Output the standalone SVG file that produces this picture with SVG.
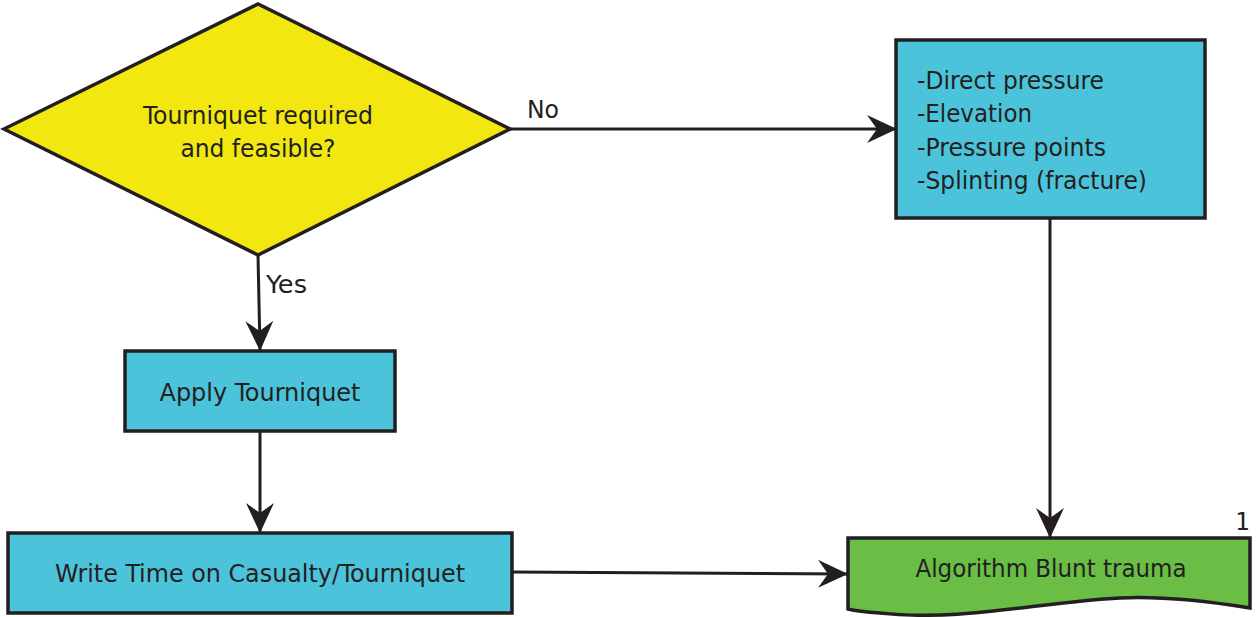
<svg xmlns="http://www.w3.org/2000/svg" width="1257" height="617" viewBox="0 0 1257 617">
<style>
.sh{stroke:#231F20;stroke-width:3.5;stroke-linejoin:miter}
.cn{fill:none;stroke:#231F20;stroke-width:3}
text{font-family:"DejaVu Sans Condensed","DejaVu Sans",sans-serif;font-size:24.5px;fill:#231F20}
.c{text-anchor:middle}
</style>
<defs>
<marker id="ah" viewBox="0 0 30 28" refX="29" refY="14" markerWidth="30" markerHeight="28" markerUnits="userSpaceOnUse" orient="auto">
<path d="M0,0 L30,14 L0,28 L10,14 Z" fill="#231F20"/>
</marker>
</defs>
<rect width="1257" height="617" fill="#fff"/>
<g id="connectors">
<path class="cn" d="M510,129 L896,129" marker-end="url(#ah)"/>
<path class="cn" d="M258,255 L260,350" marker-end="url(#ah)"/>
<path class="cn" d="M260,431 L260,532" marker-end="url(#ah)"/>
<path class="cn" d="M1050,218 L1050,537" marker-end="url(#ah)"/>
<path class="cn" d="M512,572 L847,574" marker-end="url(#ah)"/>
<text x="527" y="118" textLength="32" lengthAdjust="spacingAndGlyphs">No</text>
<text x="266" y="293" textLength="41" lengthAdjust="spacingAndGlyphs">Yes</text>
</g>
<g id="decision">
<polygon class="sh" points="4,129 258,4 510,129 258,255" fill="#F2E80F"/>
<text class="c" x="258" y="124" textLength="230" lengthAdjust="spacingAndGlyphs">Tourniquet required</text>
<text class="c" x="258" y="157" textLength="155" lengthAdjust="spacingAndGlyphs">and feasible?</text>
</g>
<g id="alternatives">
<rect class="sh" x="896" y="40" width="309" height="178" fill="#4BC4DB"/>
<text x="917" y="89" textLength="187" lengthAdjust="spacingAndGlyphs">-Direct pressure</text>
<text x="917" y="122" textLength="115" lengthAdjust="spacingAndGlyphs">-Elevation</text>
<text x="917" y="156" textLength="189" lengthAdjust="spacingAndGlyphs">-Pressure points</text>
<text x="917" y="189" textLength="230" lengthAdjust="spacingAndGlyphs">-Splinting (fracture)</text>
</g>
<g id="apply">
<rect class="sh" x="125" y="351" width="270" height="80" fill="#4BC4DB"/>
<text class="c" x="260" y="401" textLength="201" lengthAdjust="spacingAndGlyphs">Apply Tourniquet</text>
</g>
<g id="writetime">
<rect class="sh" x="8" y="533" width="504" height="80" fill="#4BC4DB"/>
<text class="c" x="260" y="582" textLength="410" lengthAdjust="spacingAndGlyphs">Write Time on Casualty/Tourniquet</text>
</g>
<g id="blunt">
<path class="sh" d="M848,538 L1250,538 L1250,608 C1200,600 1160,596 1120,598 C1040,602 960,622 880,613 C865,612 856,611 848,609 Z" fill="#6ABD45"/>
<text class="c" x="1051" y="577" textLength="271" lengthAdjust="spacingAndGlyphs">Algorithm Blunt trauma</text>
<text x="1235" y="530" style="font-family:'DejaVu Sans Mono',monospace;font-size:24px">1</text>
</g>
</svg>
